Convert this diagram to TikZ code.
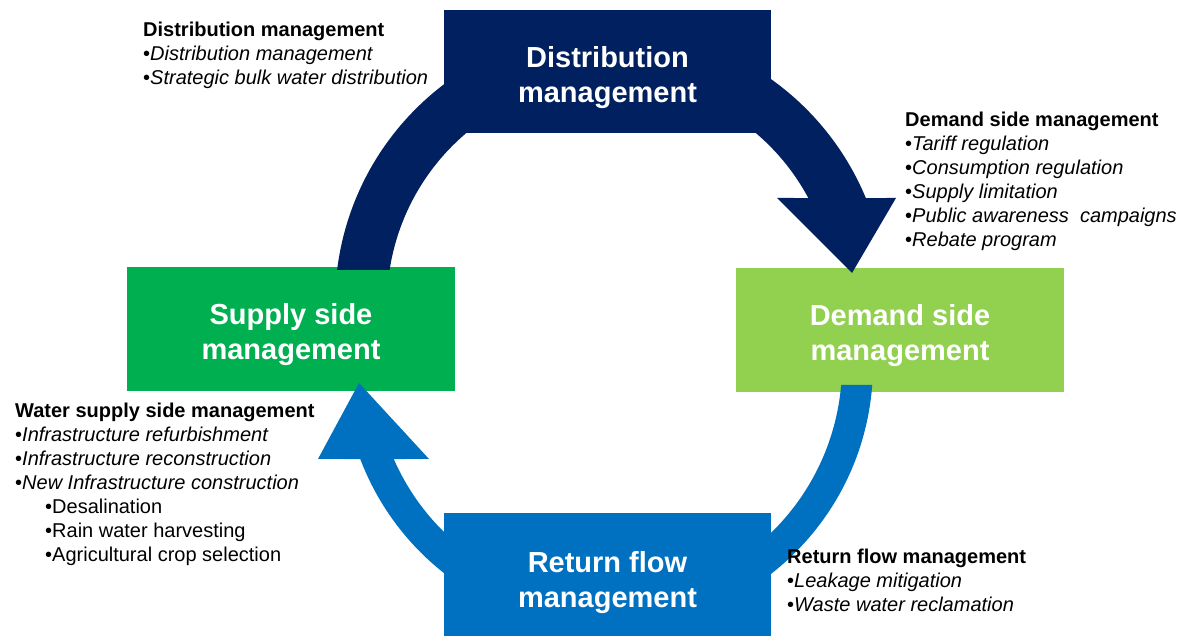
\documentclass[tikz,border=0pt]{standalone}
\usepackage{fontspec}
\setmainfont{Liberation Sans}
\definecolor{navy}{HTML}{002060}
\definecolor{grass}{HTML}{00B050}
\definecolor{lime}{HTML}{92D050}
\definecolor{ocean}{HTML}{0070C0}
% taller first line so the two-line titles sit a little lower in their boxes
\newcommand{\titlestrut}{\rule{0pt}{33pt}}

\begin{document}
\begin{tikzpicture}[x=1pt,y=1pt,
  box/.style={rectangle, inner sep=0pt, minimum width=328pt, minimum height=124pt,
    text=white, align=center, font=\fontsize{29}{35}\selectfont\bfseries},
  notes/.style={anchor=base west, inner sep=0pt, font=\fontsize{20}{24}\selectfont}
]
\useasboundingbox (0,0) rectangle (1179,636);

% side boxes (the arrow ends sit on top of them)
\node[box, fill=grass] (supply) at (291,307) {\titlestrut Supply side\\management};
\node[box, fill=lime]  (demand) at (900,306) {\titlestrut Demand side\\management};

% centres of the two circular arrows
\coordinate (hubA) at (611,332);
\coordinate (hubB) at (608,271);

% upper arrow: distribution -> demand
\fill[navy] ([shift={(172.92:276)}]hubA) arc[start angle=172.92, end angle=22.58, radius=276]
  -- (896,438) -- (852,363) -- (777,438)
  -- ([shift={(28.24:224)}]hubA) arc[start angle=28.24, end angle=171.27, radius=224] -- cycle;

% lower arrow: demand -> return flow -> supply
\fill[ocean] ([shift={(-4.33:265)}]hubB) arc[start angle=-4.33, end angle=-159.22, radius=265]
  -- (318,177) -- (359,253) -- (429,177)
  -- ([shift={(-156.31:234)}]hubB) arc[start angle=-156.31, end angle=-4.90, radius=234] -- cycle;

% top and bottom boxes over the arrow bands
\node[box, fill=navy, minimum width=327pt, minimum height=123pt] (distribution) at (607.5,564.5) {\titlestrut Distribution\\management};
\node[box, fill=ocean, minimum width=327pt, minimum height=128pt] (returnflow) at (607.5,59) {\titlestrut Return flow\\management};

% descriptions
\node[notes] (distnotes) at (143,599) {\parbox[t]{320pt}{%
  \textbf{Distribution management}\\
  •\textit{Distribution management}\\
  •\textit{Strategic bulk water distribution}}};

\node[notes] (demandnotes) at (905,509) {\parbox[t]{300pt}{%
  \textbf{Demand side management}\\
  •\textit{Tariff regulation}\\
  •\textit{Consumption regulation}\\
  •\textit{Supply limitation}\\
  •\textit{Public awareness\ \ campaigns}\\
  •\textit{Rebate program}}};

\node[notes] (supplynotes) at (15,218) {\parbox[t]{340pt}{%
  \textbf{Water supply side management}\\
  •\textit{Infrastructure refurbishment}\\
  •\textit{Infrastructure reconstruction}\\
  •\textit{New Infrastructure construction}\\
  \hspace*{30pt}•Desalination\\
  \hspace*{30pt}•Rain water harvesting\\
  \hspace*{30pt}•Agricultural crop selection}};

\node[notes] (returnnotes) at (787,72) {\parbox[t]{300pt}{%
  \textbf{Return flow management}\\
  •\textit{Leakage mitigation}\\
  •\textit{Waste water reclamation}}};
\end{tikzpicture}
\end{document}
